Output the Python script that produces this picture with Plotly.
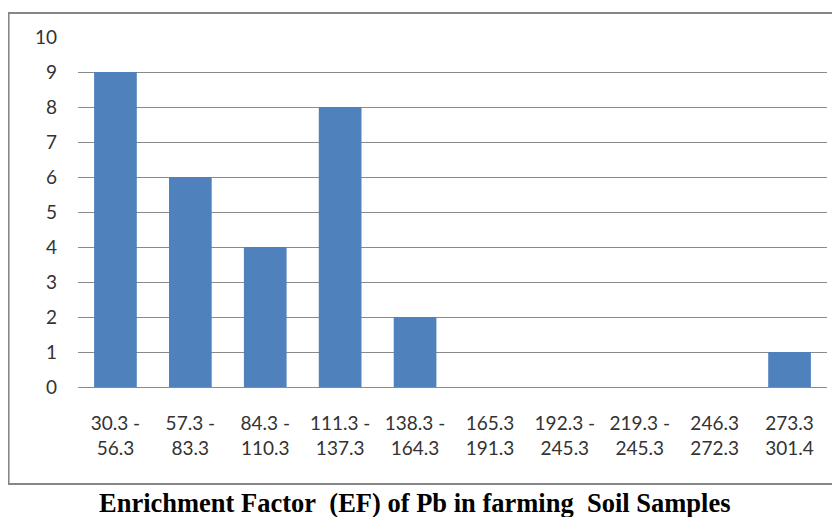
import plotly.graph_objects as go

categories = ["30.3 -<br>56.3", "57.3 -<br>83.3", "84.3 -<br>110.3", "111.3 -<br>137.3",
              "138.3 -<br>164.3", "165.3<br>191.3", "192.3 -<br>245.3", "219.3 -<br>245.3",
              "246.3<br>272.3", "273.3<br>301.4"]
counts = [9, 6, 4, 8, 2, 0, 0, 0, 0, 1]
y_ticks = list(range(0, 11))
title_text = "Enrichment Factor&nbsp;&nbsp;(EF) of Pb in farming&nbsp;&nbsp;Soil Samples"

# page body adds an 8px offset; work in reference pixels, shifted by OFF
OFF = 8
W, H = 840 - OFF, 517 - OFF
L, T = 77.5 - OFF, 37 - OFF
R = W - (827.5 - OFF)
B = H - (387 - OFF)
pw, ph = W - L - R, H - T - B

def px_x(p):
    return (p - OFF - L) / pw

def px_y(p):
    return (387 - p) / ph

fig = go.Figure()
fig.add_trace(go.Bar(
    x=list(range(len(categories))), y=counts,
    marker=dict(color="#4F81BD", line=dict(width=0)),
    width=0.57,
))

fig.update_layout(
    width=W, height=H,
    margin=dict(l=L, r=R, t=T, b=B, pad=0),
    paper_bgcolor="white", plot_bgcolor="white",
    showlegend=False,
    font=dict(family="Lato", size=19, color="#333333"),
    xaxis=dict(
        tickmode="array", tickvals=list(range(len(categories))), ticktext=categories,
        range=[-0.5, len(categories) - 0.5],
        showgrid=False, zeroline=False, showline=False, ticks="",
        ticklabelstandoff=23,
        tickfont=dict(family="Lato", size=19, color="#333333"),
    ),
    yaxis=dict(
        range=[0, 10], tickvals=y_ticks,
        showgrid=True, gridcolor="#8a8a8a", gridwidth=1.3,
        zeroline=True, zerolinecolor="#8a8a8a", zerolinewidth=1.3,
        showline=False, ticks="",
        ticklabelstandoff=20,
        tickfont=dict(family="Lato", size=19, color="#333333"),
    ),
    shapes=[dict(
        type="rect", xref="paper", yref="paper",
        x0=px_x(8), x1=px_x(850), y0=px_y(484), y1=px_y(13),
        line=dict(color="#868686", width=2), fillcolor="rgba(0,0,0,0)", layer="below",
    )],
    annotations=[dict(
        text="<b>" + title_text + "</b>", xref="paper", yref="paper",
        x=px_x(415), y=px_y(503), xanchor="center", yanchor="middle",
        showarrow=False,
        font=dict(family="Liberation Serif", size=26.5, color="#000000"),
    )],
)

fig.write_html("out.html")
